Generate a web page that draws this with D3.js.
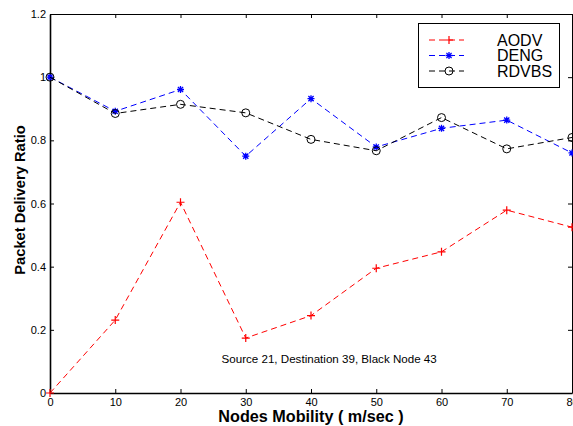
<!DOCTYPE html>
<html>
<head>
<meta charset="utf-8">
<script src="https://cdn.jsdelivr.net/npm/d3@7"></script>
<style>
  html, body { margin: 0; padding: 0; background: #fff; overflow: hidden; }
  svg { display: block; font-family: "Liberation Sans", Arial, Helvetica, sans-serif; }
</style>
</head>
<body>
<svg id="chart" width="573" height="426"></svg>
<script>
// Node mobility (m/sec)
const mobility = [0, 10, 20, 30, 40, 50, 60, 70, 80];
// Packet delivery ratio per protocol
const aodv  = [0.000, 0.231, 0.604, 0.174, 0.245, 0.395, 0.447, 0.579, 0.525];
const deng  = [1.000, 0.892, 0.961, 0.750, 0.932, 0.779, 0.838, 0.864, 0.760];
const rdvbs = [1.000, 0.885, 0.914, 0.887, 0.803, 0.767, 0.872, 0.773, 0.809];

const xTicks = [0, 10, 20, 30, 40, 50, 60, 70, 80];
const yTicks = [0, 0.2, 0.4, 0.6, 0.8, 1.0, 1.2];
const yTickLabels = ["0", "0.2", "0.4", "0.6", "0.8", "1", "1.2"];

const seriesNames = ["AODV", "DENG", "RDVBS"];

const svg = d3.select("#chart");
const plotLeft = 50, plotRight = 572, plotTop = 14, plotBottom = 393;

const x = d3.scaleLinear().domain([0, 80]).range([plotLeft, plotRight]);
const y = d3.scaleLinear().domain([0, 1.2]).range([plotBottom, plotTop]);

// Frame axes with inward ticks on all four sides
const axisStyle = g => {
  g.select(".domain").attr("stroke", "#000");
  g.selectAll(".tick line").attr("stroke", "#000");
  g.selectAll(".tick text").attr("fill", "#000").attr("font-size", 11);
};

svg.append("g").attr("transform", `translate(0,${plotBottom})`)
  .call(d3.axisBottom(x).tickValues(xTicks).tickSize(-4).tickSizeOuter(0).tickPadding(5).tickFormat(d3.format("d")))
  .call(axisStyle)
  .call(g => g.select(".domain").attr("stroke-width", 1.6));

svg.append("g").attr("transform", `translate(0,${plotTop})`)
  .call(d3.axisTop(x).tickValues(xTicks).tickSize(-4).tickSizeOuter(0).tickFormat(""))
  .call(axisStyle);

svg.append("g").attr("transform", `translate(${plotLeft},0)`)
  .call(d3.axisLeft(y).tickValues(yTicks).tickSize(-4).tickSizeOuter(0).tickPadding(4)
    .tickFormat((d, i) => yTickLabels[i]))
  .call(axisStyle)
  .call(g => g.select(".domain").attr("stroke-width", 1.6));

svg.append("g").attr("transform", `translate(${plotRight},0)`)
  .call(d3.axisRight(y).tickValues(yTicks).tickSize(-4).tickSizeOuter(0).tickFormat(""))
  .call(axisStyle);

// Marker shapes
const markerPath = {
  plus: "M-4,0H4M0,-4V4",
  star: "M-3.5,0H3.5M0,-3.5V3.5M-2.6,-2.6L2.6,2.6M-2.6,2.6L2.6,-2.6"
};

const series = [
  { name: seriesNames[0], values: aodv,  color: "#ff0000", marker: "plus" },
  { name: seriesNames[1], values: deng,  color: "#0000ff", marker: "star" },
  { name: seriesNames[2], values: rdvbs, color: "#000000", marker: "circle" }
];

const line = d3.line().x(d => x(d[0])).y(d => y(d[1]));

function drawMarker(g, kind, color, cx, cy) {
  if (kind === "circle") {
    g.append("circle").attr("cx", cx).attr("cy", cy).attr("r", 4)
      .attr("fill", "none").attr("stroke", color).attr("stroke-width", 1);
  } else {
    g.append("path").attr("d", markerPath[kind])
      .attr("transform", `translate(${cx},${cy})`)
      .attr("fill", "none").attr("stroke", color).attr("stroke-width", kind === "star" ? 1.3 : 1.2);
  }
}

series.forEach(s => {
  const pts = mobility.map((m, i) => [m, s.values[i]]);
  const g = svg.append("g");
  g.append("path").datum(pts).attr("d", line)
    .attr("fill", "none").attr("stroke", s.color).attr("stroke-width", 1)
    .attr("stroke-dasharray", "6,4");
  pts.forEach(p => drawMarker(g, s.marker, s.color, x(p[0]), y(p[1])));
});

// Legend
const lg = svg.append("g");
lg.append("rect").attr("x", 418.5).attr("y", 23.5).attr("width", 141).attr("height", 64)
  .attr("fill", "#fff").attr("stroke", "#000").attr("stroke-width", 1);
series.forEach((s, i) => {
  const ly = 40 + i * 15.5;
  lg.append("line").attr("x1", 429).attr("x2", 464).attr("y1", ly).attr("y2", ly)
    .attr("stroke", s.color).attr("stroke-width", 1).attr("stroke-dasharray", "6,4");
  drawMarker(lg, s.marker, s.color, 449, ly);
  lg.append("text").attr("x", 497).attr("y", ly + 5.8).attr("font-size", 16)
    .attr("fill", "#000").text(s.name);
});

// Scenario note
svg.append("text").attr("x", 221.5).attr("y", 363).attr("font-size", 11.6)
  .attr("fill", "#000").text("Source 21, Destination 39, Black Node 43");

// Axis titles
svg.append("text").attr("x", (plotLeft + plotRight) / 2).attr("y", 422)
  .attr("text-anchor", "middle").attr("font-size", 16.2).attr("font-weight", "bold")
  .attr("fill", "#000").text("Nodes Mobility ( m/sec )");

svg.append("text").attr("transform", "translate(25,200) rotate(-90)")
  .attr("text-anchor", "middle").attr("font-size", 14.7).attr("font-weight", "bold")
  .attr("fill", "#000").text("Packet Delivery Ratio");
</script>
</body>
</html>
